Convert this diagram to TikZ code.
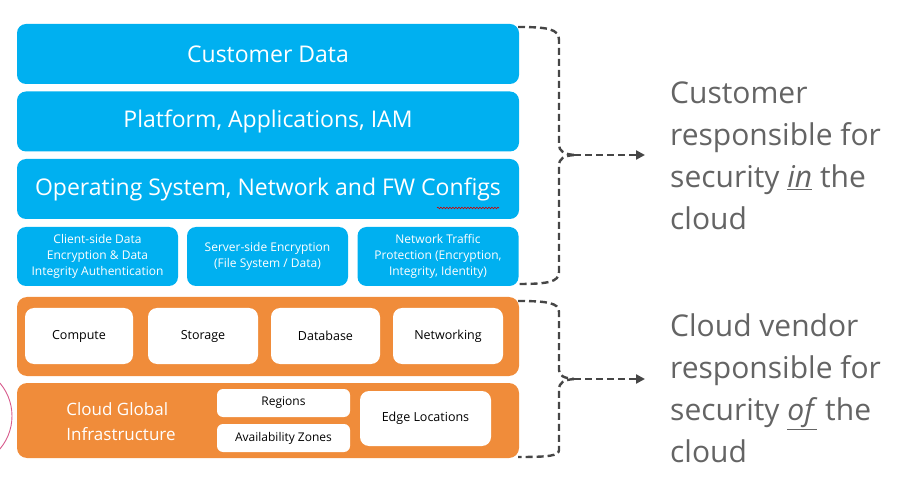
\documentclass[tikz,border=0pt]{standalone}
\usepackage{fontspec}
\setmainfont{Open Sans}
\usetikzlibrary{arrows.meta,decorations.pathmorphing}
\definecolor{cblue}{RGB}{0,176,240}
\definecolor{corange}{RGB}{240,140,58}
\definecolor{cdash}{RGB}{70,70,70}
\definecolor{ctext}{RGB}{100,100,100}
\definecolor{cpink}{RGB}{215,90,140}
\tikzset{
  bigblue/.style={fill=cblue, rounded corners=9pt, minimum width=502pt, minimum height=60pt, inner sep=0pt, outer sep=0pt, text=white, font=\fontsize{23}{27}\selectfont},
  smallblue/.style={fill=cblue, rounded corners=9pt, minimum width=161pt, minimum height=59pt, inner sep=0pt, outer sep=0pt, text=white, align=center, font=\fontsize{12}{16}\selectfont},
  orangebox/.style={fill=corange, rounded corners=10pt, minimum width=502pt, inner sep=0pt, outer sep=0pt},
  whitebox/.style={fill=white, rounded corners=9pt, inner sep=0pt, outer sep=0pt, text=black, font=\fontsize{12.5}{15}\selectfont},
  brk/.style={draw=cdash, line width=2.4pt, dash pattern=on 7pt off 4pt},
  brkarrow/.style={brk, -{Triangle[length=9pt,width=9pt]}},
  sidetext/.style={text=ctext, align=left, anchor=north west, inner sep=0pt, font=\fontsize{30}{42}\selectfont}
}
\begin{document}
\begin{tikzpicture}[x=1pt,y=-1pt]
\useasboundingbox (0,0) rectangle (905,486);
% pink arc at left edge
\begin{scope}
\clip (0,0) rectangle (905,486);
\draw[cpink, line width=0.9pt] (-39,416) circle (51pt);
\end{scope}
% blue layers
\node[bigblue] (cd) at (268,54) {Customer Data};
\node[bigblue] (pl) at (268,121.5) {Platform, Applications, IAM};
\node[bigblue] (os) at (268,189) {Operating System, Network and FW Configs};
\node[smallblue] (s1) at (97.5,256.5) {Client-side Data\\Encryption \& Data\\Integrity Authentication};
\node[smallblue] (s2) at (267.5,256.5) {Server-side Encryption\\(File System / Data)};
\node[smallblue] (s3) at (438,256.5) {Network Traffic\\Protection (Encryption,\\Integrity, Identity)};
\draw[red!80!black, line width=0.6pt, decorate, decoration={snake, amplitude=0.8pt, segment length=3pt}] (437,208) -- (499,208);
% orange layers
\node[orangebox, minimum height=79pt] (ob1) at (268,336.5) {};
\node[whitebox, minimum width=108pt, minimum height=56pt] (c1) at (79,336) {Compute};
\node[whitebox, minimum width=110pt, minimum height=56pt] (c2) at (203,336) {Storage};
\node[whitebox, minimum width=109pt, minimum height=56pt] (c3) at (325.5,336) {Database};
\node[whitebox, minimum width=110pt, minimum height=56pt] (c4) at (448,336) {Networking};
\node[orangebox, minimum height=75pt] (ob2) at (268,420.5) {};
\node[text=white, align=left, inner sep=0pt, font=\fontsize{17}{25}\selectfont] (cgi) at (121,422) {Cloud Global\\Infrastructure};
\node[whitebox, rounded corners=6pt, minimum width=133pt, minimum height=28pt, font=\fontsize{12}{14}\selectfont] (rg) at (283.5,403) {Regions};
\node[whitebox, rounded corners=6pt, minimum width=133pt, minimum height=28pt, font=\fontsize{12}{14}\selectfont] (az) at (283.5,438) {Availability Zones};
\node[whitebox, minimum width=131pt, minimum height=55pt] (el) at (425.5,418.5) {Edge Locations};
% side texts
\node[sidetext] (t1) at (670,82) {Customer\\responsible for\\security \underline{\textit{in}} the\\cloud};
\node[sidetext] (t2) at (670,314) {Cloud vendor\\responsible for\\security \underline{\textit{of}} the\\cloud};
% brackets
\coordinate (j1) at (574,155);
\coordinate (j2) at (574,379);
\coordinate (a1) at (645,155);
\coordinate (a2) at (645,379);
\draw[brk] (518,27) .. controls (548,27) and (559,29) .. (559,40) -- (559,145) .. controls (559,151) and (564,154) .. (j1);
\draw[brk] (j1) .. controls (564,156) and (559,158) .. (559,166) -- (559,272) .. controls (559,282) and (548,284) .. (518,284);
\draw[brkarrow] (j1) -- (a1);
\draw[brk] (518,301) .. controls (548,301) and (559,303) .. (559,312) -- (559,370) .. controls (559,376) and (564,378) .. (j2);
\draw[brk] (j2) .. controls (564,380) and (559,382) .. (559,390) -- (559,450) .. controls (559,456) and (548,457) .. (518,457);
\draw[brkarrow] (j2) -- (a2);
\end{tikzpicture}
\end{document}
